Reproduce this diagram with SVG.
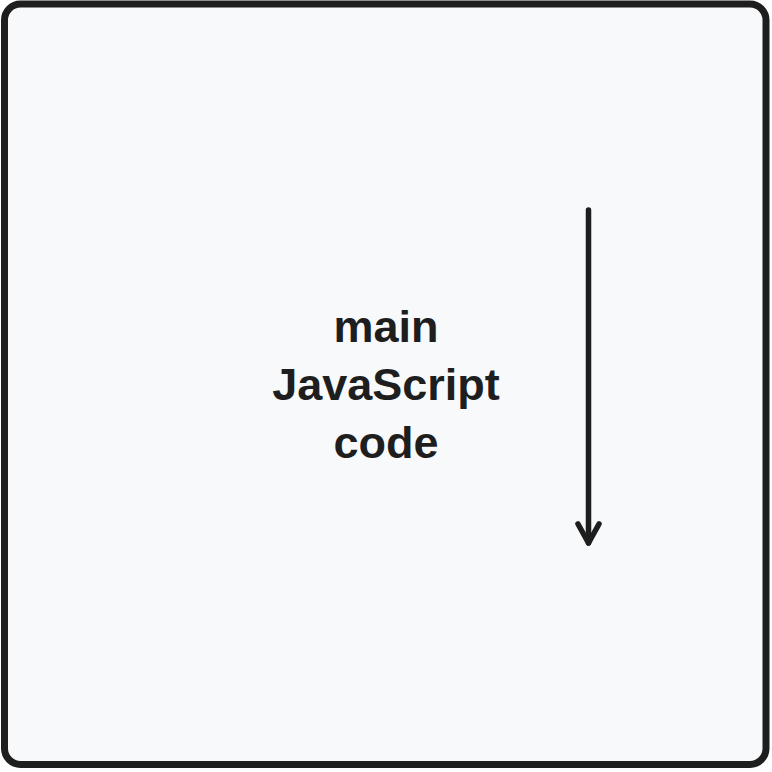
<svg xmlns="http://www.w3.org/2000/svg" width="772" height="772" viewBox="0 0 772 772">
  <style>
    .frame { fill: #f8f9fa; stroke: #1e1e1e; stroke-width: 7; }
    .label { font-family: "Liberation Sans", Arial, sans-serif; font-weight: bold; font-size: 45px; fill: #1e1e1e; text-anchor: middle; }
    .conn { fill: none; stroke: #1e1e1e; stroke-width: 5.5; stroke-linecap: round; stroke-linejoin: round; }
  </style>
  <g id="main-frame">
    <rect class="frame" x="4.5" y="4" width="761.5" height="760.5" rx="16" ry="16"/>
    <text class="label" x="386" y="342">main</text>
    <text class="label" x="386" y="400">JavaScript</text>
    <text class="label" x="386" y="458">code</text>
  </g>
  <g id="connectors">
    <path class="conn" d="M588.5 210 L588.5 543"/>
    <path class="conn" d="M578 524 L588.5 543 L599 524"/>
  </g>
</svg>
